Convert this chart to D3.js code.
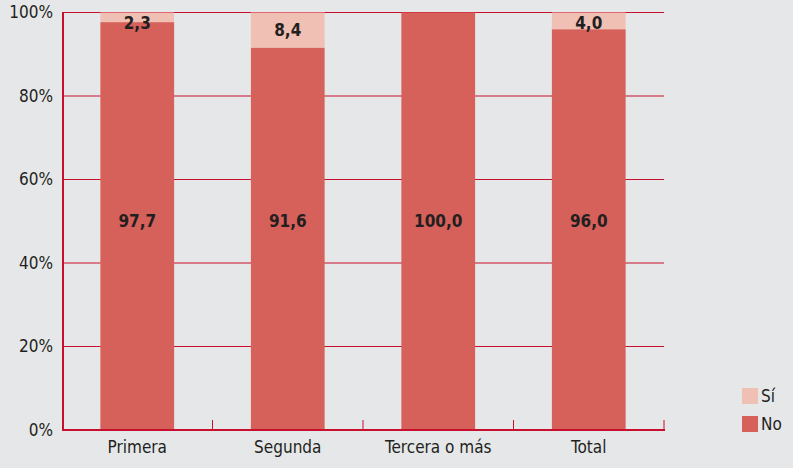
<!DOCTYPE html>
<html>
<head>
<meta charset="utf-8">
<script src="https://cdn.jsdelivr.net/npm/d3@7"></script>
<style>
  body { margin: 0; background: #e6e7e9; }
  svg { display: block; font-family: "Liberation Sans Narrow", "DejaVu Sans Condensed", "Roboto Condensed", sans-serif; }
</style>
</head>
<body>
<div id="chart"></div>
<script>
// categories and the two series (percent)
var categories = ["Primera", "Segunda", "Tercera o más", "Total"];
var no_values = [97.7, 91.6, 100.0, 96.0];
var si_values = [2.3, 8.4, 0, 4.0];
var y_ticks = [0, 20, 40, 60, 80, 100];
var series_names = ["Sí", "No"];

var width = 793, height = 468;
var red = "#c8102e", col_no = "#d6605a", col_si = "#f0c0b5";

var svg = d3.select("#chart").append("svg")
  .attr("width", width)
  .attr("height", height);

svg.append("rect").attr("width", width).attr("height", height).attr("fill", "#e6e7e9");

var x = d3.scaleBand()
  .domain(categories)
  .range([62, 664])
  .paddingInner(0.51)
  .paddingOuter(0.255);

var y = d3.scaleLinear()
  .domain([0, 100])
  .range([430, 12.5]);

// gridlines
svg.selectAll(".grid")
  .data(y_ticks.filter(function(d) { return d > 0; }))
  .enter()
  .append("line")
  .attr("x1", 62)
  .attr("x2", 664)
  .attr("y1", function(d) { return y(d); })
  .attr("y2", function(d) { return y(d); })
  .attr("stroke", red)
  .attr("stroke-width", 1.2);

// y labels
svg.selectAll(".ylab")
  .data(y_ticks)
  .enter()
  .append("text")
  .attr("x", 53)
  .attr("y", function(d) { return y(d); })
  .attr("dy", "0.35em")
  .attr("text-anchor", "end")
  .style("font-size", "17px")
  .attr("fill", "#231f20")
  .text(function(d) { return d + "%"; });

var rows = categories.map(function(c, i) {
  return { cat: c, no: no_values[i], si: si_values[i] };
});

// No bars
svg.selectAll(".bar_no")
  .data(rows)
  .enter()
  .append("rect")
  .attr("x", function(d) { return x(d.cat); })
  .attr("y", function(d) { return y(d.no); })
  .attr("width", x.bandwidth())
  .attr("height", function(d) { return y(0) - y(d.no); })
  .attr("fill", col_no);

// Sí bars
svg.selectAll(".bar_si")
  .data(rows.filter(function(d) { return d.si > 0; }))
  .enter()
  .append("rect")
  .attr("x", function(d) { return x(d.cat); })
  .attr("y", function(d) { return y(d.no + d.si); })
  .attr("width", x.bandwidth())
  .attr("height", function(d) { return y(d.no) - y(d.no + d.si); })
  .attr("fill", col_si);

// axes lines
svg.append("line")
  .attr("x1", 63).attr("x2", 63)
  .attr("y1", y(100)).attr("y2", 431)
  .attr("stroke", red).attr("stroke-width", 2);

svg.append("line")
  .attr("x1", 62).attr("x2", 665)
  .attr("y1", 430).attr("y2", 430)
  .attr("stroke", red).attr("stroke-width", 2);

// category separator ticks
svg.selectAll(".xtick")
  .data(categories)
  .enter()
  .append("line")
  .attr("x1", function(d) { return x(d) + x.bandwidth() + x.step() * 0.255 ; })
  .attr("x2", function(d) { return x(d) + x.bandwidth() + x.step() * 0.255 ; })
  .attr("y1", 420)
  .attr("y2", 430)
  .attr("stroke", red)
  .attr("stroke-width", 1);

// category labels
svg.selectAll(".xlab")
  .data(categories)
  .enter()
  .append("text")
  .attr("x", function(d) { return x(d) + x.bandwidth() / 2; })
  .attr("y", 453)
  .attr("text-anchor", "middle")
  .style("font-size", "17px")
  .attr("fill", "#231f20")
  .text(function(d) { return d; });

var fmt = function(v) { return v.toFixed(1).replace(".", ","); };

// No value labels
svg.selectAll(".lab_no")
  .data(rows)
  .enter()
  .append("text")
  .attr("x", function(d) { return x(d.cat) + x.bandwidth() / 2; })
  .attr("y", y(50))
  .attr("dy", "0.35em")
  .attr("text-anchor", "middle")
  .style("font-size", "17px")
  .style("font-weight", "bold")
  .attr("fill", "#231f20")
  .text(function(d) { return fmt(d.no); });

// Sí value labels
svg.selectAll(".lab_si")
  .data(rows.filter(function(d) { return d.si > 0; }))
  .enter()
  .append("text")
  .attr("x", function(d) { return x(d.cat) + x.bandwidth() / 2; })
  .attr("y", function(d) { return Math.max((y(d.no) + y(d.no + d.si)) / 2, y(100) + 11); })
  .attr("dy", "0.35em")
  .attr("text-anchor", "middle")
  .style("font-size", "17px")
  .style("font-weight", "bold")
  .attr("fill", "#231f20")
  .text(function(d) { return fmt(d.si); });

// legend
var legend = svg.selectAll(".legend")
  .data(series_names)
  .enter()
  .append("g")
  .attr("transform", function(d, i) { return "translate(742," + (388 + i * 28) + ")"; });

legend.append("rect")
  .attr("width", 16)
  .attr("height", 16)
  .attr("fill", function(d) { return d === "Sí" ? col_si : col_no; });

legend.append("text")
  .attr("x", 19)
  .attr("y", 8)
  .attr("dy", "0.35em")
  .style("font-size", "17px")
  .attr("fill", "#231f20")
  .text(function(d) { return d; });
</script>
</body>
</html>
